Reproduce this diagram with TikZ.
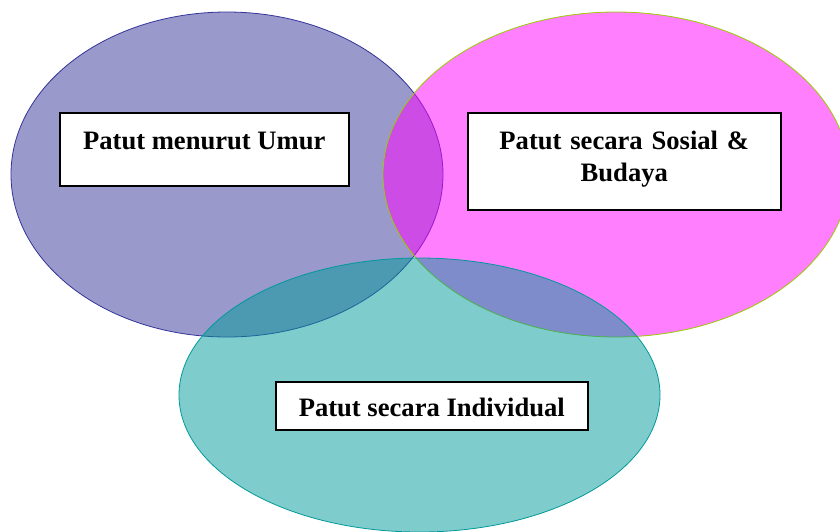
\documentclass[tikz,border=0pt]{standalone}
\usepackage{fontspec}
\setmainfont{Liberation Serif}
\definecolor{umur blue}{RGB}{51,51,153}
\definecolor{sosial pink}{RGB}{255,0,255}
\definecolor{sosial rim}{RGB}{153,204,0}
\definecolor{individu teal}{RGB}{0,153,153}
\def\lw{1.6pt}
\tikzset{my venn/.style 2 args={fill=#1,draw=#2,fill opacity=0.5,draw opacity=1,line width=0.8pt},
  my label/.style={draw,fill=white,line width=\lw,inner sep=0pt,anchor=north west,
    font=\fontsize{26.6pt}{32pt}\selectfont\bfseries}}

\begin{document}
\begin{tikzpicture}[x=1pt,y=-1pt]
\useasboundingbox (0,0) rectangle (840,531);
% circles
\foreach\cx/\cy/\rx/\ry/\f/\d in {227/174.5/216/162.5/umur blue/umur blue,
  616/174.5/233/162.5/sosial pink/sosial rim,
  419.5/395/240.5/137/individu teal/individu teal}
{
  \draw[my venn={\f}{\d}] (\cx,\cy) ellipse [x radius=\rx, y radius=\ry];
}
% labels
\node[my label,minimum width=289pt,text height=37pt,text depth=36pt] (umur) at (59,112)
  {Patut menurut Umur};
\node[my label,text width=313pt,align=center,text height=37pt,text depth=60pt] (sosial) at (467,112)
  {Patut secara Sosial \&\\ Budaya};
\node[my label,minimum width=312pt,text height=35pt,text depth=13pt] (individu) at (275,381)
  {Patut secara Individual};
\end{tikzpicture}
\end{document}
